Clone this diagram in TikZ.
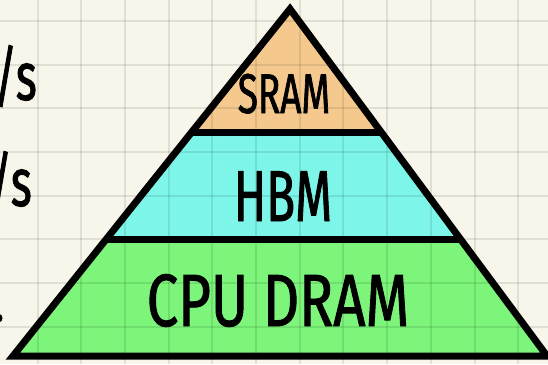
\documentclass[tikz,border=0pt]{standalone}
\usepackage{fontspec}
\newfontfamily\handfont[FakeStretch=0.66, FakeBold=1.2]{Fira Sans}
\newfontfamily\handwide[FakeStretch=0.76, FakeBold=1.2]{Fira Sans}
\usetikzlibrary{calc}
\definecolor{paper}{HTML}{F8F6EA}
\definecolor{sramfill}{HTML}{F5C98D}
\definecolor{hbmfill}{HTML}{7DF5E8}
\definecolor{dramfill}{HTML}{7CF57A}
\tikzset{
  gridline/.style={black, opacity=0.09, line width=2pt},
  outline/.style={black, line width=7pt, line join=miter},
  tierlabel/.style={font=\handfont\fontsize{72}{72}\selectfont, inner sep=0pt, anchor=base},
  ratelabel/.style={font=\handfont\fontsize{68}{68}\selectfont, inner sep=0pt, anchor=base east},
}
\begin{document}
\begin{tikzpicture}[x=1pt, y=-1pt]
\useasboundingbox (0,0) rectangle (548,364);
\clip (0,0) rectangle (548,364);
\fill[paper] (0,0) rectangle (548,364);

% pyramid corners and tier boundaries
\coordinate (apex) at (290,9);
\coordinate (bl) at (13,356);
\coordinate (br) at (547,356);
\coordinate (l1) at ($(bl)!0.6455!(apex)$);
\coordinate (r1) at ($(br)!0.6455!(apex)$);
\coordinate (l2) at ($(bl)!0.3357!(apex)$);
\coordinate (r2) at ($(br)!0.3357!(apex)$);

% tier fills
\fill[sramfill] (apex) -- (r1) -- (l1) -- cycle;
\fill[hbmfill] (l1) -- (r1) -- (r2) -- (l2) -- cycle;
\fill[dramfill] (l2) -- (r2) -- (br) -- (bl) -- cycle;

% squared paper
\foreach \i in {0,...,11} \draw[gridline] ({37.5+43.7*\i},0) -- ++(0,364);
\foreach \j in {0,...,7} \draw[gridline] (0,{21+43.65*\j}) -- ++(548,0);

% outline and tier boundaries
\draw[outline] (apex) -- (br) -- (bl) -- cycle;
\draw[outline] (l1) -- (r1);
\draw[outline] (l2) -- (r2);

% tier labels
\node[tierlabel, font=\handfont\fontsize{56}{56}\selectfont] (sram) at (284,113) {SRAM};
\node[tierlabel] (hbm) at (283,221) {HBM};
\node[tierlabel, font=\handwide\fontsize{74}{74}\selectfont] (dram) at (278,326) {CPU DRAM};

% bandwidth notes along the left edge
\node[ratelabel] (rate1) at (37,100) {B/s};
\node[ratelabel] (rate2) at (32,206) {/s};
\node[ratelabel, font=\handfont\fontsize{50}{50}\selectfont] (rate3) at (4,321) {.};
\end{tikzpicture}
\end{document}
